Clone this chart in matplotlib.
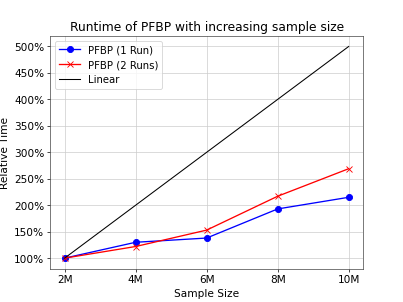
import matplotlib
matplotlib.use("Agg")
import matplotlib.pyplot as plt
from matplotlib.ticker import FuncFormatter

sizes = ["2M", "4M", "6M", "8M", "10M"]
x_vals = [2, 4, 6, 8, 10]
run1 = [100, 130, 138, 193, 215]
run2 = [100, 122, 153, 217, 269]
linear = [100, 200, 300, 400, 500]

fig, ax = plt.subplots(figsize=(6.4, 4.8), dpi=63)
ax.plot(x_vals, run1, color="blue", marker="o", markersize=7, label="PFBP (1 Run)")
ax.plot(x_vals, run2, color="red", marker="x", markersize=7, label="PFBP (2 Runs)")
ax.plot(x_vals, linear, color="black", linewidth=1.2, label="Linear")
ax.set_xticks(x_vals)
ax.set_xticklabels(sizes)
ax.set_yticks([100, 150, 200, 250, 300, 350, 400, 450, 500])
ax.yaxis.set_major_formatter(FuncFormatter(lambda v, p: f"{int(v)}%"))
ax.tick_params(labelsize=12)
ax.grid(True, color="#cccccc")
for s in ax.spines.values():
    s.set_color("#444444")
ax.set_xlabel("Sample Size", fontsize=12)
ax.set_ylabel("Relative Time", fontsize=12)
ax.set_title("Runtime of PFBP with increasing sample size", fontsize=14)
ax.legend(loc="upper left", fontsize=11.5)
fig.savefig("out.png", dpi=63)
